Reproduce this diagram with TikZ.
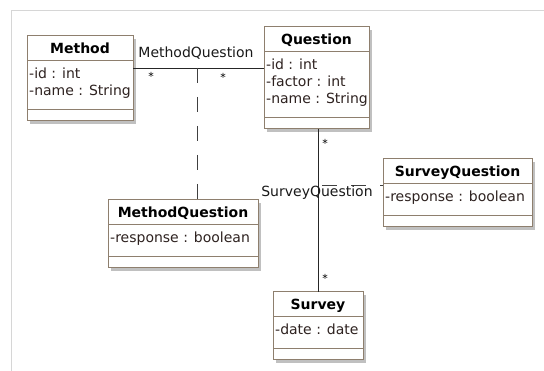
\documentclass[tikz,border=0pt]{standalone}
\usepackage{fontspec}
\setmainfont{DejaVu Sans}
\usetikzlibrary{shadows}

\definecolor{boxedge}{HTML}{8E7F6E}
\definecolor{attrink}{HTML}{2E2220}
\definecolor{framegray}{HTML}{D6D6D6}

\tikzset{
  classbox/.style={draw=boxedge, line width=1pt, fill=white, inner sep=0pt, outer sep=0pt,
    drop shadow={shadow xshift=3pt, shadow yshift=-3pt, fill=black!35, opacity=0.7}},
  sepline/.style={draw=boxedge, line width=1pt},
  titletext/.style={font=\fontsize{14}{17}\selectfont\bfseries, text=black, inner sep=0pt, anchor=base},
  attrtext/.style={font=\fontsize{14}{17}\selectfont, text=attrink, inner sep=0pt, anchor=base west},
  assoc/.style={draw=black!85, line width=0.9pt},
  classlink/.style={draw=black!75, line width=0.9pt, dash pattern=on 15pt off 14pt},
  linklabel/.style={font=\fontsize{14}{17}\selectfont, text=black!90, inner sep=0pt},
  multstar/.style={font=\fontsize{11}{13}\selectfont, text=black, inner sep=0pt},
}

% UML class: name, left x, top y, width, number of attributes, title, attributes
\newcommand{\umlclass}[7]{%
  \pgfmathsetmacro{\attrsep}{25+17*#5+15}%
  \pgfmathsetmacro{\boxh}{\attrsep+11}%
  \node[classbox, minimum width=#4pt, minimum height=\boxh pt, anchor=north west] (#1) at (#2,#3) {};
  \draw[sepline] ([yshift=-25pt]#1.north west) -- ([yshift=-25pt]#1.north east);
  \draw[sepline] ([yshift=-\attrsep pt]#1.north west) -- ([yshift=-\attrsep pt]#1.north east);
  \node[titletext] (#1-title) at ([yshift=-18pt]#1.north) {#6};
  \foreach \txt [count=\k] in {#7} {
    \pgfmathsetmacro{\basey}{43+17*(\k-1)}
    \node[attrtext] (#1-attr\k) at ([xshift=2pt, yshift=-\basey pt]#1.north west) {\txt};
  }
}

\begin{document}
\begin{tikzpicture}[x=1pt,y=-1pt]
  \useasboundingbox[fill=white] (0,0) rectangle (544,371);
  \draw[framegray, line width=1pt] (11,371) -- (11,11) -- (544,11);

  % classes
  \umlclass{method}{27}{36}{106}{2}{Method}{-id : int, -name : String}
  \umlclass{question}{264}{27}{105}{3}{Question}{-id : int, -factor : int, -name : String}
  \umlclass{methodq}{108}{200}{150}{1}{MethodQuestion}{-response : boolean}
  \umlclass{surveyq}{383}{159}{149}{1}{SurveyQuestion}{-response : boolean}
  \umlclass{survey}{273}{292}{90}{1}{Survey}{-date : date}

  % association Method -- Question with its association class
  \coordinate (mqmid) at (197,68);
  \draw[assoc] (mqmid -| method.east) -- (mqmid -| question.west);
  \draw[classlink] (mqmid) -- (mqmid |- methodq.north);
  \node[linklabel] (mqlabel) at (196,53) {MethodQuestion};
  \node[multstar] (mqstarA) at (151,76) {*};
  \node[multstar] (mqstarB) at (223,77) {*};

  % association Question -- Survey with its association class
  \coordinate (sqmid) at (318,185);
  \draw[assoc] (sqmid |- question.south) -- (sqmid |- survey.north);
  \draw[classlink, dash phase=25pt] (sqmid) -- (sqmid -| surveyq.west);
  \node[linklabel] (sqlabel) at (317,193) {SurveyQuestion};
  \node[multstar] (sqstarA) at (325,143) {*};
  \node[multstar] (sqstarB) at (325,278) {*};
\end{tikzpicture}
\end{document}
